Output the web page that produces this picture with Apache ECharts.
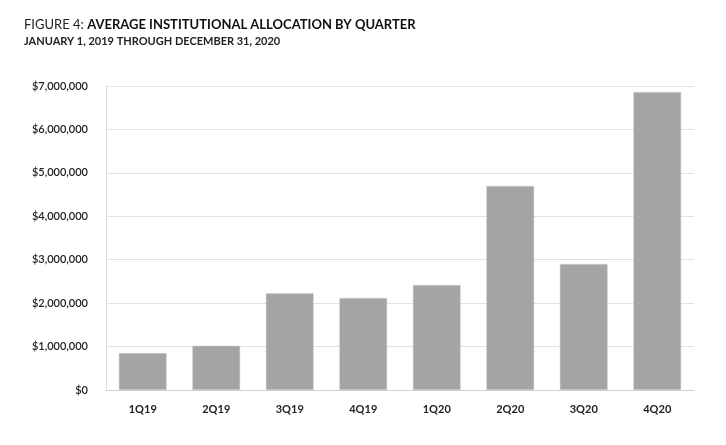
<!DOCTYPE html>
<html>
<head>
<meta charset="utf-8">
<script src="https://cdn.jsdelivr.net/npm/echarts@6/dist/echarts.min.js"></script>
<style>html,body{margin:0;padding:0;background:#fff;}#c{width:726px;height:445px;}</style>
</head>
<body>
<div id="c"></div>
<script>
const categories = ['1Q19','2Q19','3Q19','4Q19','1Q20','2Q20','3Q20','4Q20'];
const allocations = [850000, 1020000, 2230000, 2120000, 2420000, 4700000, 2900000, 6860000];
const yTicks = [0, 1000000, 2000000, 3000000, 4000000, 5000000, 6000000, 7000000];

const chart = echarts.init(document.getElementById('c'));
const font = 'Lato, "Open Sans", sans-serif';
chart.setOption({
  animation: false,
  backgroundColor: '#fff',
  title: [{
    text: '{n|FIGURE 4: }{b|AVERAGE INSTITUTIONAL ALLOCATION BY QUARTER}',
    left: 19, top: 13,
    textStyle: {
      rich: {
        n: {fontFamily: font, fontSize: 13, color: '#222', fontWeight: 'normal'},
        b: {fontFamily: font, fontSize: 13, color: '#111', fontWeight: 'bold'}
      }
    }
  }, {
    text: 'JANUARY 1, 2019 THROUGH DECEMBER 31, 2020',
    left: 19, top: 31,
    textStyle: {fontFamily: font, fontSize: 11, color: '#222', fontWeight: 'bold'}
  }],
  grid: {left: 106, right: 32, top: 86, bottom: 55, containLabel: false},
  xAxis: {
    type: 'category',
    data: categories,
    axisLine: {show: true, lineStyle: {color: '#cfcfcf', width: 1}},
    axisTick: {show: false},
    axisLabel: {fontFamily: font, fontSize: 11, fontWeight: 'bold', color: '#222', margin: 14}
  },
  yAxis: {
    type: 'value',
    min: yTicks[0], max: yTicks[yTicks.length - 1], interval: 1000000,
    axisLine: {show: true, lineStyle: {color: '#dcdcdc'}},
    axisTick: {show: false},
    splitLine: {lineStyle: {color: '#e2e2e2', width: 1}},
    axisLabel: {
      fontFamily: font, fontSize: 11, fontWeight: 600, color: '#222', margin: 18,
      formatter: v => '$' + v.toLocaleString('en-US')
    }
  },
  series: [{
    type: 'bar',
    data: allocations,
    barWidth: '65%',
    itemStyle: {color: '#a4a4a4', borderColor: '#d0d0d0', borderWidth: 0.5}
  }]
});
</script>
</body>
</html>
